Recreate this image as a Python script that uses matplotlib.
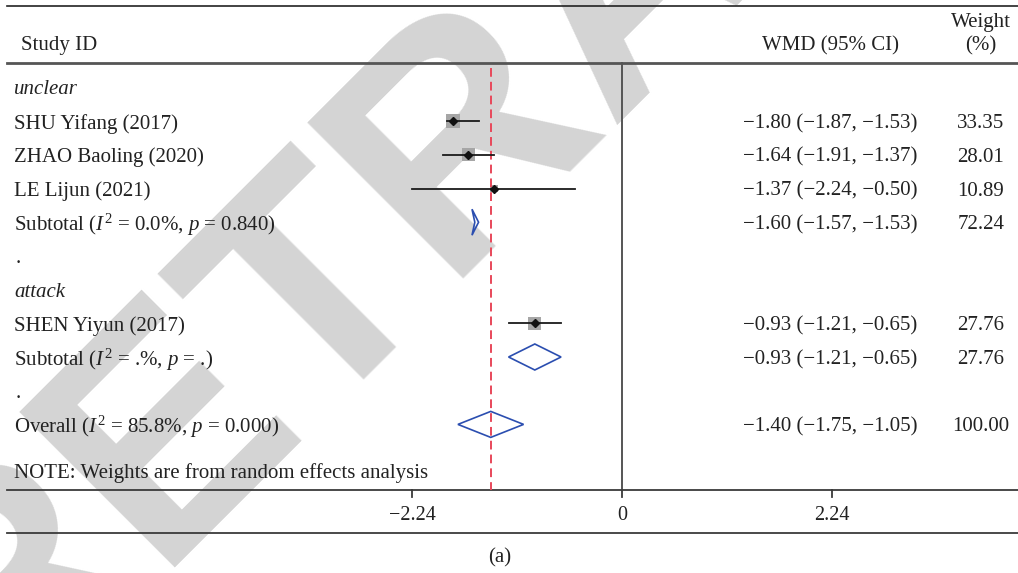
import matplotlib
matplotlib.use("Agg")
import matplotlib.pyplot as plt
from matplotlib.patches import Polygon, Rectangle

# ---- data -------------------------------------------------------------
group_names = ["unclear", "attack"]
study_names = ["SHU Yifang (2017)", "ZHAO Baoling (2020)", "LE Lijun (2021)",
               "SHEN Yiyun (2017)"]
study_group = [0, 0, 0, 1]
study_wmd = [-1.80, -1.64, -1.37, -0.93]
study_lo = [-1.87, -1.91, -2.24, -1.21]
study_hi = [-1.53, -1.37, -0.50, -0.65]
study_weight = [33.35, 28.01, 10.89, 27.76]

subtotal_labels = [r"Subtotal ($I^2$ = 0.0%, $p$ = 0.840)",
                   r"Subtotal ($I^2$ = .%, $p$ = .)"]
subtotal_wmd = [-1.60, -0.93]
subtotal_lo = [-1.57, -1.21]
subtotal_hi = [-1.53, -0.65]
subtotal_weight = [72.24, 27.76]

overall_label = r"Overall ($I^2$ = 85.8%, $p$ = 0.000)"
overall_wmd = -1.40
overall_lo = -1.75
overall_hi = -1.05
overall_weight = 100.00

x_ticks = [-2.24, 0, 2.24]
x_tick_labels = ["\u22122.24", "0", "2.24"]

# ---- style ------------------------------------------------------------
plt.rcParams["font.family"] = ["Liberation Serif", "DejaVu Serif"]
plt.rcParams["mathtext.fontset"] = "custom"
plt.rcParams["mathtext.rm"] = "Liberation Serif"
plt.rcParams["mathtext.it"] = "Liberation Serif:italic"

W, H = 1018, 573
X0, SCALE = 622.0, 93.75          # pixel of zero, pixels per WMD unit
FS = 15.0                          # body font size (pt)
DY = 2.5                           # text sits slightly below the row centre
LINE = "#3a3a3a"
DIAMOND = "#2b4eb0"
REFLINE = "#e8485a"
TXT = "#222222"


def px(p):
    """horizontal pixel position -> WMD axis units"""
    return (p - X0) / SCALE


def row_y(i):
    return 87.4 + 33.7 * i


def fmt(v):
    return f"{v:.2f}".replace("-", "\u2212")


def ci_text(e, l, h):
    return f"{fmt(e)} ({fmt(l)}, {fmt(h)})"


fig = plt.figure(figsize=(W / 100, H / 100), dpi=100)
ax = fig.add_axes([0, 0, 1, 1])
ax.set_xlim(px(0), px(W))
ax.set_ylim(H, 0)
ax.axis("off")


def label(x, y, s, **kw):
    kw.setdefault("ha", "left")
    ax.text(x, y + DY, s, va="center", fontsize=kw.pop("fontsize", FS),
            color=TXT, **kw)


# background watermark, running diagonally up from the lower-left corner
ax.text(px(-8), 730, "RETRACTED", rotation=45, rotation_mode="anchor",
        ha="left", va="baseline", fontsize=230, fontweight="bold",
        family="Liberation Sans", color="#d4d4d4", zorder=0)

# ---- frame lines --------------------------------------------------------
ax.plot([px(7), px(W)], [6, 6], color="#222222", lw=1.2, zorder=2)
ax.plot([px(7), px(W)], [63, 63], color="#555555", lw=2.0, zorder=2)
ax.plot([px(7), px(W)], [490, 490], color=LINE, lw=1.3, zorder=2)
ax.plot([px(7), px(W)], [533, 533], color=LINE, lw=1.3, zorder=2)
ax.plot([0, 0], [63, 490], color="#555555", lw=1.4, zorder=2)
for t, lab in zip(x_ticks, x_tick_labels):
    ax.plot([t, t], [490, 497], color=LINE, lw=1.3, zorder=2)
    label(t, 513, lab, ha="center", fontsize=FS - 0.5)

# pooled-effect reference line
ax.plot([overall_wmd, overall_wmd], [68, 490], color=REFLINE, lw=1.4,
        dashes=(4.5, 2.6), zorder=4)

# ---- headers ------------------------------------------------------------
COL_LABEL = px(14)
COL_CI = px(830)
COL_W = px(981)
label(px(21), 43, "Study ID")
label(COL_CI, 43, "WMD (95% CI)", ha="center")
label(COL_W, 20, "Weight", ha="center")
label(COL_W, 43, "(%)", ha="center")


def diamond(e, l, h, y, half=13):
    poly = Polygon([(l, y), (e, y - half), (h, y), (e, y + half)], closed=True,
                   fill=False, edgecolor=DIAMOND, lw=1.2, zorder=5)
    ax.add_patch(poly)


def row_values(y, e, l, h, w):
    label(COL_CI, y, ci_text(e, l, h), ha="center")
    label(COL_W, y, f"{w:.2f}", ha="center")


# ---- body -----------------------------------------------------------------
row = 0
for g, gname in enumerate(group_names):
    label(COL_LABEL, row_y(row), gname, style="italic")
    row += 1
    for i in range(len(study_names)):
        if study_group[i] != g:
            continue
        y = row_y(row)
        label(COL_LABEL, y, study_names[i])
        side = 2.42 * study_weight[i] ** 0.5
        ax.add_patch(Rectangle((study_wmd[i] - side / 2 / SCALE, y - side / 2),
                               side / SCALE, side, facecolor="#a6a6a6",
                               edgecolor="none", zorder=3))
        ax.plot([study_lo[i], study_hi[i]], [y, y], color="#1a1a1a", lw=1.3, zorder=4)
        ax.plot(study_wmd[i], y, marker="D", ms=4.2, color="#111111", zorder=6)
        row_values(y, study_wmd[i], study_lo[i], study_hi[i], study_weight[i])
        row += 1
    y = row_y(row)
    label(COL_LABEL, y, subtotal_labels[g])
    diamond(subtotal_wmd[g], subtotal_lo[g], subtotal_hi[g], y)
    row_values(y, subtotal_wmd[g], subtotal_lo[g], subtotal_hi[g], subtotal_weight[g])
    row += 1
    label(px(16), row_y(row), ".")
    row += 1

y = row_y(row)
label(COL_LABEL, y, overall_label)
diamond(overall_wmd, overall_lo, overall_hi, y)
row_values(y, overall_wmd, overall_lo, overall_hi, overall_weight)

label(COL_LABEL, 471, "NOTE: Weights are from random effects analysis")

label(px(500), 555, "(a)", ha="center")

fig.savefig("out.png", dpi=100)
